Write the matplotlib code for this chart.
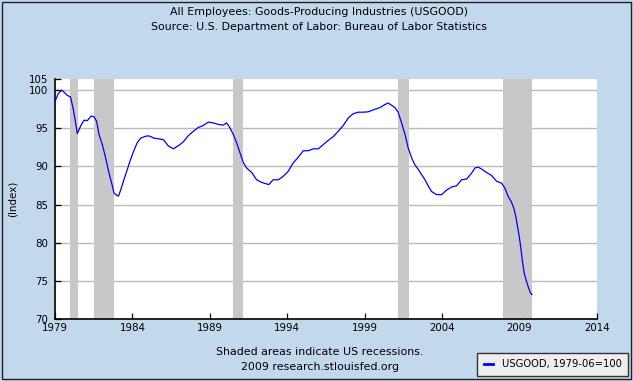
import matplotlib
matplotlib.use("Agg")
import matplotlib.pyplot as plt
from matplotlib.patches import Rectangle

# USGOOD index (1979-06=100); dates as decimal years
dates = [1979.0, 1979.2, 1979.43, 1979.6, 1979.8, 1980.0, 1980.18, 1980.33, 1980.44, 1980.55,
         1980.66, 1980.87, 1981.09, 1981.34, 1981.52, 1981.69, 1981.84, 1982.05, 1982.27, 1982.49,
         1982.66, 1982.81, 1983.0, 1983.1, 1983.24, 1983.45, 1983.67, 1983.88, 1984.1, 1984.31,
         1984.53, 1984.85, 1985.07, 1985.39, 1985.71, 1986.0, 1986.31, 1986.64, 1986.96, 1987.28,
         1987.6, 1987.93, 1988.25, 1988.57, 1988.9, 1989.22, 1989.54, 1989.86, 1990.08, 1990.3,
         1990.51, 1990.73, 1990.94, 1991.16, 1991.37, 1991.7, 1992.02, 1992.34, 1992.67, 1992.8,
         1993.09, 1993.42, 1993.74, 1994.06, 1994.38, 1994.71, 1995.03, 1995.35, 1995.68, 1996.0,
         1996.32, 1996.64, 1996.97, 1997.29, 1997.61, 1997.94, 1998.26, 1998.58, 1998.9, 1999.23,
         1999.55, 1999.98, 2000.3, 2000.52, 2000.74, 2000.95, 2001.16, 2001.38, 2001.6, 2001.81,
         2002.03, 2002.24, 2002.46, 2002.68, 2002.89, 2003.1, 2003.32, 2003.64, 2003.97, 2004.29,
         2004.61, 2004.93, 2005.26, 2005.58, 2005.9, 2006.12, 2006.33, 2006.55, 2006.87, 2007.19,
         2007.52, 2007.84, 2008.05, 2008.27, 2008.48, 2008.63, 2008.76, 2008.87, 2008.98, 2009.08,
         2009.19, 2009.3, 2009.45, 2009.56, 2009.71, 2009.8]
values = [98.5, 99.5, 100.0, 99.7, 99.3, 99.1, 97.5, 95.7, 94.3, 94.8,
          95.3, 96.05, 96.0, 96.6, 96.5, 95.9, 94.2, 92.9, 91.1, 89.1,
          87.8, 86.5, 86.2, 86.1, 86.9, 88.25, 89.6, 90.9, 92.1, 93.1,
          93.7, 93.95, 94.0, 93.7, 93.6, 93.5, 92.7, 92.3, 92.7, 93.2,
          94.0, 94.6, 95.1, 95.35, 95.8, 95.7, 95.5, 95.4, 95.7, 95.05,
          94.2, 93.1, 91.8, 90.5, 89.8, 89.2, 88.25, 87.9, 87.7, 87.6,
          88.25, 88.25, 88.7, 89.35, 90.45, 91.2, 92.05, 92.05, 92.3, 92.3,
          92.85, 93.4, 93.9, 94.6, 95.35, 96.35, 96.9, 97.1, 97.1, 97.15,
          97.4, 97.7, 98.1, 98.3, 98.0, 97.7, 97.1, 95.7, 94.2, 92.4,
          91.1, 90.2, 89.6, 88.9, 88.25, 87.45, 86.7, 86.3, 86.3, 86.9,
          87.3, 87.45, 88.25, 88.35, 89.1, 89.8, 89.9, 89.65, 89.2, 88.8,
          88.05, 87.8, 87.15, 86.05, 85.3, 84.5, 83.4, 82.1, 80.8, 79.3,
          77.5, 76.0, 74.9, 74.2, 73.4, 73.2]

# recessions (start, end) in decimal years; last one shaded to end of data
rec_start = [1980.0, 1981.5, 1990.5, 2001.17, 2007.92]
rec_end = [1980.5, 1982.83, 1991.17, 2001.83, 2009.83]

yticks = [70, 75, 80, 85, 90, 95, 100]
ytop = 101.45
xticks = [1979, 1984, 1989, 1994, 1999, 2004, 2009, 2014]

bg = "#c2d8ec"
fs = 7.4   # tick labels
fs_txt = 7.9  # titles / notes

fig = plt.figure(figsize=(6.33, 3.81), dpi=100, facecolor=bg)
fig.patches.append(Rectangle((0.003, 0.006), 0.994, 0.99, transform=fig.transFigure,
                             fill=False, edgecolor="#222222", linewidth=1.0))

ax = fig.add_axes([55 / 633, 1 - 319 / 381, 542 / 633, 240 / 381])
ax.set_facecolor("white")

for y in yticks[1:]:
    ax.axhline(y, color="#bbbbbb", linewidth=1.0, zorder=1)
for s, e in zip(rec_start, rec_end):
    ax.axvspan(s, e, color="#c8c8c8", linewidth=0, zorder=2)

ax.plot(dates, values, color="#0000ff", linewidth=0.9, zorder=3, label="USGOOD, 1979-06=100")

ax.set_xlim(1979, 2014)
ax.set_ylim(70, ytop)
ax.set_xticks(xticks)
ax.set_xticklabels([str(x) for x in xticks], fontsize=fs)
ax.set_yticks(yticks + [ytop])
ax.set_yticklabels([str(y) for y in yticks] + ["105"], fontsize=fs)
ax.tick_params(direction="in", length=4.5, width=0.9, color="black", pad=3)
ax.tick_params(axis="y", pad=5)

for side in ["top", "right"]:
    ax.spines[side].set_visible(False)
for side in ["left", "bottom"]:
    ax.spines[side].set_linewidth(1.2)
    ax.spines[side].set_color("black")

ax.set_ylabel("(Index)", fontsize=fs, labelpad=8)

fig.text(0.504, 1 - 12 / 381, "All Employees: Goods-Producing Industries (USGOOD)",
         ha="center", va="center", fontsize=fs_txt)
fig.text(0.504, 1 - 27 / 381, "Source: U.S. Department of Labor: Bureau of Labor Statistics",
         ha="center", va="center", fontsize=fs_txt)
fig.text(320 / 633, 1 - 352 / 381, "Shaded areas indicate US recessions.",
         ha="center", va="center", fontsize=fs_txt)
fig.text(320 / 633, 1 - 367 / 381, "2009 research.stlouisfed.org",
         ha="center", va="center", fontsize=fs_txt)

leg = fig.legend(loc="lower right", bbox_to_anchor=(628 / 633, 1 - 376 / 381),
                 fontsize=7.2, frameon=True, fancybox=False, handlelength=0.9,
                 borderpad=0.65, handletextpad=0.9, borderaxespad=0)
leg.get_frame().set_facecolor("#eeeeee")
leg.get_frame().set_edgecolor("#333333")
leg.get_frame().set_linewidth(1.0)
leg.get_frame().set_alpha(1)
for line in leg.get_lines():
    line.set_linewidth(2)

fig.savefig("out.png", dpi=100, facecolor=bg)
